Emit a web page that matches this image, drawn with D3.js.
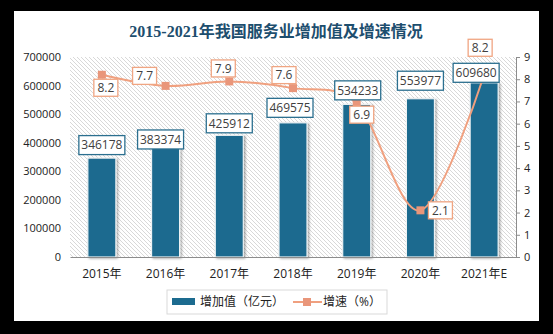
<!DOCTYPE html>
<html><head><meta charset="utf-8">
<script src="https://cdn.jsdelivr.net/npm/d3@7"></script>
<style>
html,body{margin:0;padding:0;background:#000;}
svg{display:block;}
</style></head>
<body>
<script>
const categories = ["2015年","2016年","2017年","2018年","2019年","2020年","2021年E"];
const addedValue = [346178,383374,425912,469575,534233,553977,609680];
const growthRate = [8.2,7.7,7.9,7.6,6.9,2.1,8.2];
const leftTicks = [0,100000,200000,300000,400000,500000,600000,700000];
const rightTicks = [0,1,2,3,4,5,6,7,8,9];
const title = "2015-2021年我国服务业增加值及增速情况";
const legendBar = "增加值（亿元）";
const legendLine = "增速（%）";

// label offsets (layout only)
const barLabelOffset = [[0,-13],[-5,-8],[0,-12],[-3,-15],[1,-14],[0,-18],[-8,-10]];
const lineLabelOffset = [[4,13],[-21,-10],[-6,-13],[-9,-13],[5,11],[20,0],[-4,-27]];

const W=553,H=334;
const m={l:70,r:516,t:57,b:257};
const svg=d3.select("body").append("svg").attr("width",W).attr("height",H);
svg.append("rect").attr("width",W).attr("height",H).attr("fill","#000");
svg.append("rect").attr("x",14).attr("y",11).attr("width",525).attr("height",310).attr("fill","#fff");

const defs=svg.append("defs");
const pat=defs.append("pattern").attr("id","hatch").attr("patternUnits","userSpaceOnUse").attr("width",4).attr("height",4);
pat.append("path").attr("d","M-1,-1L5,5M-1,3L1,5M3,-1L5,1").attr("stroke","#d4d4d4").attr("stroke-width",0.9);
const f=defs.append("filter").attr("id","sh").attr("x","-30%").attr("y","-10%").attr("width","160%").attr("height","130%");
f.append("feDropShadow").attr("dx",1.5).attr("dy",1).attr("stdDeviation",1).attr("flood-color","#000").attr("flood-opacity",0.35);

svg.append("rect").attr("x",m.l).attr("y",m.t).attr("width",m.r-m.l).attr("height",m.b-m.t).attr("fill","url(#hatch)");

const x=d3.scaleBand().domain(categories).range([m.l,m.r]).paddingInner(0.56).paddingOuter(0.28);
const yL=d3.scaleLinear().domain([0,700000]).range([m.b,m.t]);
const yR=d3.scaleLinear().domain([0,9]).range([m.b,m.t]);

const font="'Open Sans','Noto Sans CJK SC',sans-serif";

// title
svg.append("text").attr("x",276).attr("y",37).attr("text-anchor","middle")
  .attr("font-family","'Liberation Serif','Noto Sans CJK SC',serif").attr("font-weight","bold")
  .attr("font-size",16).attr("fill","#1d4e6e").text(title);

// left axis
const gl=svg.append("g").attr("transform",`translate(${m.l},0)`)
  .call(d3.axisLeft(yL).tickValues(leftTicks).tickSize(0).tickPadding(9).tickFormat(d3.format("d")));
gl.select(".domain").remove();
gl.selectAll("text").attr("font-family",font).attr("font-size",11).attr("fill","#222");

// right axis
const gr=svg.append("g").attr("transform",`translate(${m.r},0)`)
  .call(d3.axisRight(yR).tickValues(rightTicks).tickSize(4).tickPadding(4).tickFormat(d3.format("d")));
gr.select(".domain").attr("stroke","#8c8c8c");
gr.selectAll("line").attr("stroke","#8c8c8c");
gr.selectAll("text").attr("font-family",font).attr("font-size",11).attr("fill","#222");

// bars
svg.append("g").selectAll("rect").data(addedValue).join("rect")
  .attr("x",(d,i)=>x(categories[i])).attr("y",d=>yL(d))
  .attr("width",x.bandwidth()).attr("height",d=>m.b-yL(d))
  .attr("fill","#1c6b8f").attr("stroke","#eef2f4").attr("stroke-width",1.2)
  .attr("filter","url(#sh)");

// bottom axis
const gb=svg.append("g").attr("transform",`translate(0,${m.b})`)
  .call(d3.axisBottom(x).tickSize(0).tickPadding(12));
gb.select(".domain").attr("stroke","#8c8c8c");
gb.selectAll("text").attr("font-family",font).attr("font-size",12).attr("fill","#222");

// line
const cx=i=>x(categories[i])+x.bandwidth()/2;
const line=d3.line().x((d,i)=>cx(i)).y(d=>yR(d)).curve(d3.curveCardinal.tension(0));
svg.append("path").datum(growthRate).attr("d",line).attr("fill","none")
  .attr("stroke","#f0a07f").attr("stroke-width",2);
svg.append("g").selectAll("rect").data(growthRate).join("rect")
  .attr("x",(d,i)=>cx(i)-4).attr("y",d=>yR(d)-4).attr("width",8).attr("height",8)
  .attr("fill","#e9967a");

// line labels
const ll=svg.append("g").selectAll("g").data(growthRate).join("g")
  .attr("transform",(d,i)=>`translate(${cx(i)+lineLabelOffset[i][0]},${yR(d)+lineLabelOffset[i][1]})`);
ll.append("rect").attr("x",-12).attr("y",-8.5).attr("width",24).attr("height",17)
  .attr("fill","#fff").attr("stroke","#f0a582").attr("stroke-width",1.3);
ll.append("text").attr("text-anchor","middle").attr("dy","0.35em")
  .attr("font-family",font).attr("font-size",12).attr("fill","#404040").text(d=>d.toFixed(1));

// bar labels
const bl=svg.append("g").selectAll("g").data(addedValue).join("g")
  .attr("transform",(d,i)=>`translate(${cx(i)+barLabelOffset[i][0]},${yL(d)+barLabelOffset[i][1]})`);
bl.append("rect").attr("x",-23).attr("y",-9.5).attr("width",46).attr("height",19)
  .attr("fill","#fff").attr("stroke","#2b6f8f").attr("stroke-width",1.3);
bl.append("text").attr("text-anchor","middle").attr("dy","0.35em")
  .attr("font-family",font).attr("font-size",12).attr("fill","#404040").text(d=>d);

// legend
const lg=svg.append("g");
lg.append("rect").attr("x",167).attr("y",290).attr("width",220).attr("height",24)
  .attr("fill","#fff").attr("stroke","#d9d9d9");
lg.append("rect").attr("x",172).attr("y",298).attr("width",23).attr("height",7).attr("fill","#1c6b8f");
lg.append("text").attr("x",200).attr("y",302).attr("dy","0.35em").attr("font-family",font)
  .attr("font-size",12).attr("fill","#222").text(legendBar);
lg.append("line").attr("x1",293).attr("x2",322).attr("y1",302).attr("y2",302).attr("stroke","#f0a07f").attr("stroke-width",2);
lg.append("rect").attr("x",303).attr("y",298).attr("width",8).attr("height",8).attr("fill","#e9967a");
lg.append("text").attr("x",323).attr("y",302).attr("dy","0.35em").attr("font-family",font)
  .attr("font-size",12).attr("fill","#222").text(legendLine);
</script>
</body></html>
